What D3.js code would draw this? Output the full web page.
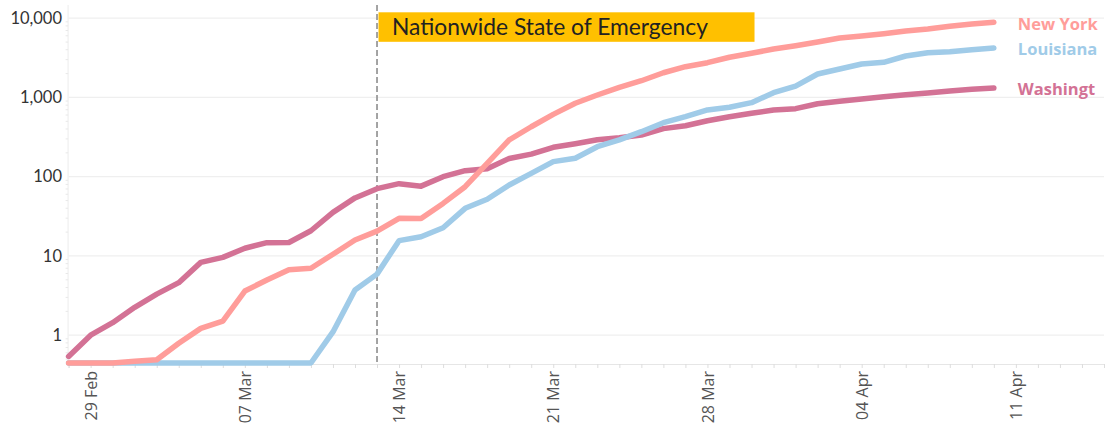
<!DOCTYPE html>
<html>
<head>
<meta charset="utf-8">
<script src="https://cdnjs.cloudflare.com/ajax/libs/d3/7.8.5/d3.min.js"></script>
<style>
  body { margin: 0; background: #fff; }
  svg { display: block; font-family: Lato, "Open Sans", sans-serif; }
</style>
</head>
<body>
<div id="chart"></div>
<script>
'use strict'

// ---------------- data ----------------
const startDate = '2020-02-28'   // first day of every series, one value per day

const washington = [0.54, 1.0, 1.44, 2.25, 3.3, 4.6, 8.3, 9.6, 12.5, 14.7, 14.8, 20.8, 35.5, 54, 70.6,
  81.7, 76, 100, 119, 126, 170, 193, 235, 261, 293, 311, 336, 404, 440,
  509, 572, 631, 695, 722, 834, 894, 956, 1023, 1083, 1138, 1205, 1268, 1316]

const louisiana = [0, 0, 0, 0, 0, 0, 0, 0, 0, 0, 0, 0, 1.1, 3.72, 5.9,
  15.6, 17.5, 22.7, 39.9, 51.9, 78.5, 110, 155, 171, 239, 291, 370, 480, 572,
  695, 751, 859, 1148, 1393, 1977, 2286, 2643, 2773, 3334, 3671, 3779, 4006, 4207]

const newYork = [0, 0, 0, 0.47, 0.49, 0.79, 1.22, 1.51, 3.61, 4.97, 6.7, 7.0, 10.5, 15.9, 20.6,
  29.9, 29.6, 46, 74.8, 147, 291, 427, 612, 844, 1074, 1343, 1626, 2051, 2444,
  2746, 3212, 3607, 4086, 4500, 5012, 5626, 5962, 6370, 6890, 7306, 7900, 8450, 8870]

// drawing order: first is drawn at the bottom
const seriesNames = ['Washington', 'Louisiana', 'New York']
const seriesValues = [washington, louisiana, newYork]
const seriesColors = ['#D37295', '#A0CBE8', '#FF9D9A']

const yTicks = [1, 10, 100, 1000, 10000]
const xTickDates = ['2020-02-29', '2020-03-07', '2020-03-14', '2020-03-21', '2020-03-28', '2020-04-04', '2020-04-11']

const emergencyDate = '2020-03-13'
const emergencyLabel = 'Nationwide State of Emergency'

// ---------------- svg setup ----------------
const svgWidth = 1114
const svgHeight = 428
const plot = { left: 68.6, right: 1104, top: 5, bottom: 364 }

const parse = d3.utcParse('%Y-%m-%d')
const day0 = parse(startDate)
const dates = d3.range(washington.length).map(i => d3.utcDay.offset(day0, i))

const svg = d3.select('#chart')
  .append('svg')
  .attr('width', svgWidth)
  .attr('height', svgHeight)

// ---------------- scales ----------------
const x = d3.scaleUtc()
  .domain([day0, parse('2020-04-15')])
  .range([plot.left, plot.right])

const y = d3.scaleLog()
  .domain([0.446, 10000])
  .range([363, 18.2])
  .clamp(true)

// ---------------- grid + axes ----------------
svg.append('g')
  .selectAll('line')
  .data(yTicks)
  .join('line')
  .attr('x1', plot.left)
  .attr('x2', plot.right)
  .attr('y1', d => y(d))
  .attr('y2', d => y(d))
  .attr('stroke', '#efefef')
  .attr('stroke-width', 1.2)

// left axis line with faint minor ticks
const minor = []
yTicks.forEach(t => d3.range(2, 10).forEach(k => { if (t * k <= 10000) minor.push(t * k) }))
minor.push(0.5, 0.6, 0.7, 0.8, 0.9)

svg.append('line')
  .attr('x1', plot.left - 0.5).attr('x2', plot.left - 0.5)
  .attr('y1', plot.top).attr('y2', plot.bottom)
  .attr('stroke', '#ececec')

svg.append('g')
  .selectAll('line')
  .data(minor)
  .join('line')
  .attr('x1', plot.left - 3)
  .attr('x2', plot.left - 0.5)
  .attr('y1', d => y(d))
  .attr('y2', d => y(d))
  .attr('stroke', '#e8e8e8')

svg.append('g')
  .selectAll('text')
  .data(yTicks)
  .join('text')
  .attr('x', 62)
  .attr('y', d => y(d))
  .attr('dy', '0.35em')
  .attr('text-anchor', 'end')
  .attr('font-size', '16.5px')
  .attr('fill', '#333')
  .text(d3.format(','))

// bottom axis: daily ticks
const xAxisDays = d3.axisBottom(x)
  .ticks(d3.utcDay.every(1))
  .tickSize(4)
  .tickFormat('')

svg.append('g')
  .attr('class', 'x-days')
  .attr('transform', `translate(0,${plot.bottom})`)
  .call(xAxisDays)
  .call(g => g.select('.domain').attr('stroke', '#e6e6e6'))
  .call(g => g.selectAll('line').attr('stroke', '#dddddd'))

// bottom axis: weekly labels, rotated
const xAxis = d3.axisBottom(x)
  .tickValues(xTickDates.map(parse))
  .tickSize(0)
  .tickFormat(d3.utcFormat('%d %b'))

svg.append('g')
  .attr('class', 'x-axis')
  .attr('transform', `translate(0,${plot.bottom})`)
  .call(xAxis)
  .call(g => g.select('.domain').remove())
  .selectAll('text')
  .attr('transform', 'rotate(-90)')
  .attr('x', -7)
  .attr('y', 0)
  .attr('dy', '0.35em')
  .attr('text-anchor', 'end')
  .attr('font-family', '"Open Sans", sans-serif')
  .attr('font-size', '16px')
  .attr('fill', '#555')

// ---------------- emergency marker ----------------
const xe = x(parse(emergencyDate))

svg.append('line')
  .attr('x1', xe).attr('x2', xe)
  .attr('y1', plot.top).attr('y2', plot.bottom)
  .attr('stroke', '#9a9a9a')
  .attr('stroke-width', 1.8)
  .attr('stroke-dasharray', '6,3')

svg.append('rect')
  .attr('x', xe + 1.5)
  .attr('y', 12.3)
  .attr('width', 376)
  .attr('height', 29.5)
  .attr('fill', '#FFC000')

svg.append('text')
  .attr('x', xe + 15)
  .attr('y', 35)
  .attr('font-size', '22.8px')
  .attr('fill', '#222')
  .text(emergencyLabel)

// ---------------- lines ----------------
const line = d3.line()
  .x((d, i) => x(dates[i]))
  .y(d => y(d))

svg.append('g')
  .selectAll('path')
  .data(seriesValues)
  .join('path')
  .attr('d', line)
  .attr('fill', 'none')
  .attr('stroke', (d, i) => seriesColors[i])
  .attr('stroke-width', 5.5)
  .attr('stroke-linejoin', 'round')
  .attr('stroke-linecap', 'round')

// ---------------- end labels ----------------
// labels get truncated (like the source tool does) when they run past the plot edge
const lastDate = dates[dates.length - 1]
const labelX = x(lastDate) + 24
const labelMaxW = plot.right - labelX

svg.append('g')
  .selectAll('text')
  .data(seriesNames)
  .join('text')
  .attr('x', labelX)
  .attr('y', (d, i) => y(seriesValues[i][seriesValues[i].length - 1]) + 1.5)
  .attr('dy', '0.35em')
  .attr('font-family', '"Open Sans", sans-serif')
  .attr('font-size', '16.5px')
  .attr('font-weight', 'bold')
  .attr('fill', (d, i) => seriesColors[i])
  .text(d => d)
  .each(function (d) {
    let t = d
    while (t.length > 1 && this.getComputedTextLength() > labelMaxW) {
      t = t.slice(0, -1)
      this.textContent = t
    }
  })
</script>
</body>
</html>
